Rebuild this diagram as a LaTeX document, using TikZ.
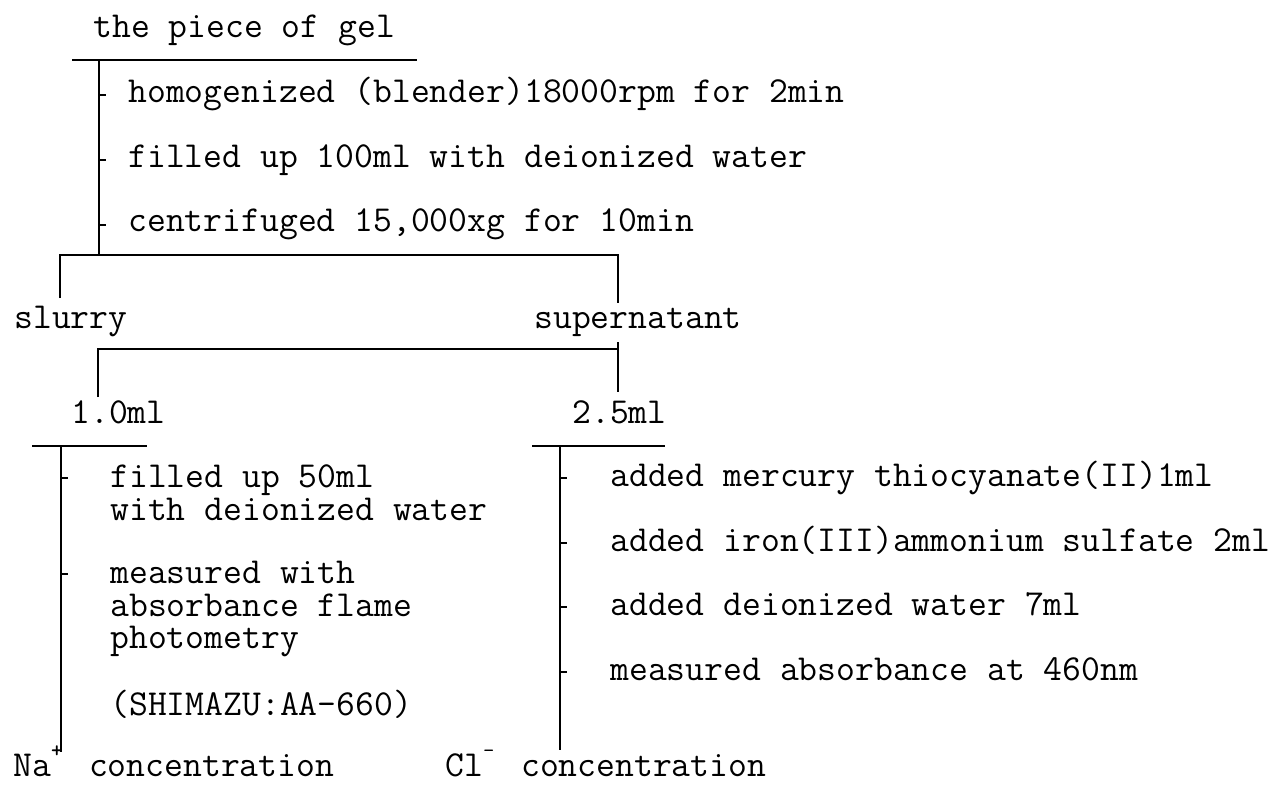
\documentclass[tikz,border=0pt]{standalone}
\usepackage{fontspec}
\newcommand{\supmark}[1]{\makebox[9.6pt][l]{\raisebox{0.5em}{\fontsize{11}{11}\selectfont #1}}}
\tikzset{
  lbl/.style={anchor=base west, inner sep=0pt, font=\ttfamily\fontsize{18.3}{21}\selectfont},
  mainline/.style={line width=1.3pt},
  thinline/.style={line width=0.85pt},
  tickline/.style={line width=0.7pt},
}
\begin{document}
\begin{tikzpicture}[x=0.5pt,y=-0.5pt]
\useasboundingbox (0,0) rectangle (1286,784);

% --- top: the piece of gel
\node[lbl] (gel) at (93,37) {the piece of gel};
\coordinate (gL) at (72,60);
\coordinate (gR) at (417,60);
\draw[thinline] (gL) -- (gR);
\coordinate (v1t) at (99,60);
\coordinate (v1b) at (99,255);
\draw[mainline] (v1t) -- (v1b);

\node[lbl] (s1) at (128,102) {homogenized (blender)18000rpm for 2min};
\node[lbl] (s2) at (128,167) {filled up 100ml with deionized water};
\node[lbl] (s3) at (128,231) {centrifuged 15,000xg for 10min};
\coordinate (t1) at (99,95);
\coordinate (t2) at (99,160);
\coordinate (t3) at (99,225);
\draw[tickline] (t1) -- ++(7,0);
\draw[tickline] (t2) -- ++(7,0);
\draw[tickline] (t3) -- ++(7,0);

% --- bracket 1
\coordinate (b1l) at (60,298);
\coordinate (b1a) at (60,255);
\coordinate (b1b) at (618,255);
\coordinate (b1r) at (618,303);
\draw[thinline] (b1l) -- (b1a) -- (b1b) -- (b1r);

\node[lbl] (slurry) at (14,328) {slurry};
\node[lbl] (super) at (534,328) {supernatant};

% --- bracket 2
\coordinate (b2l) at (98,397);
\coordinate (b2a) at (98,349);
\coordinate (b2b) at (618,349);
\coordinate (b2top) at (618,342);
\coordinate (b2r) at (618,392);
\draw[thinline] (b2l) -- (b2a) -- (b2b);
\draw[thinline] (b2top) -- (b2r);

\node[lbl] (v10) at (71,423) {1.0ml};
\node[lbl] (v25) at (572,423) {2.5ml};

% --- left branch
\coordinate (lL) at (32,446);
\coordinate (lR) at (147,446);
\draw[thinline] (lL) -- (lR);
\coordinate (lvt) at (61,446);
\coordinate (lvb) at (61,752);
\draw[mainline] (lvt) -- (lvb);
\coordinate (lt1) at (61,478);
\coordinate (lt2) at (61,574);
\draw[tickline] (lt1) -- ++(7,0);
\draw[tickline] (lt2) -- ++(7,0);

\node[lbl] (a1) at (110,487) {filled up 50ml};
\node[lbl] (a2) at (110,520) {with deionized water};
\node[lbl] (a3) at (110,583) {measured with};
\node[lbl] (a4) at (110,616) {absorbance flame};
\node[lbl] (a5) at (110,648) {photometry};
\node[lbl] (a6) at (110,715) {(SHIMAZU:AA-660)};
\node[lbl] (na) at (13,776) {Na\supmark{\textbf{+}} concentration};

% --- right branch
\coordinate (rL) at (532,446);
\coordinate (rR) at (665,446);
\draw[thinline] (rL) -- (rR);
\coordinate (rvt) at (560,446);
\coordinate (rvb) at (560,750);
\draw[mainline] (rvt) -- (rvb);
\coordinate (rt1) at (560,478);
\coordinate (rt2) at (560,543);
\coordinate (rt3) at (560,607);
\coordinate (rt4) at (560,672);
\draw[tickline] (rt1) -- ++(7,0);
\draw[tickline] (rt2) -- ++(7,0);
\draw[tickline] (rt3) -- ++(7,0);
\draw[tickline] (rt4) -- ++(7,0);

\node[lbl] (c1) at (610,486) {added mercury thiocyanate(II)1ml};
\node[lbl] (c2) at (610,551) {added iron(III)ammonium sulfate 2ml};
\node[lbl] (c3) at (610,615) {added deionized water 7ml};
\node[lbl] (c4) at (610,680) {measured absorbance at 460nm};
\node[lbl] (cl) at (445,776) {Cl\supmark{-} concentration};
\end{tikzpicture}
\end{document}
